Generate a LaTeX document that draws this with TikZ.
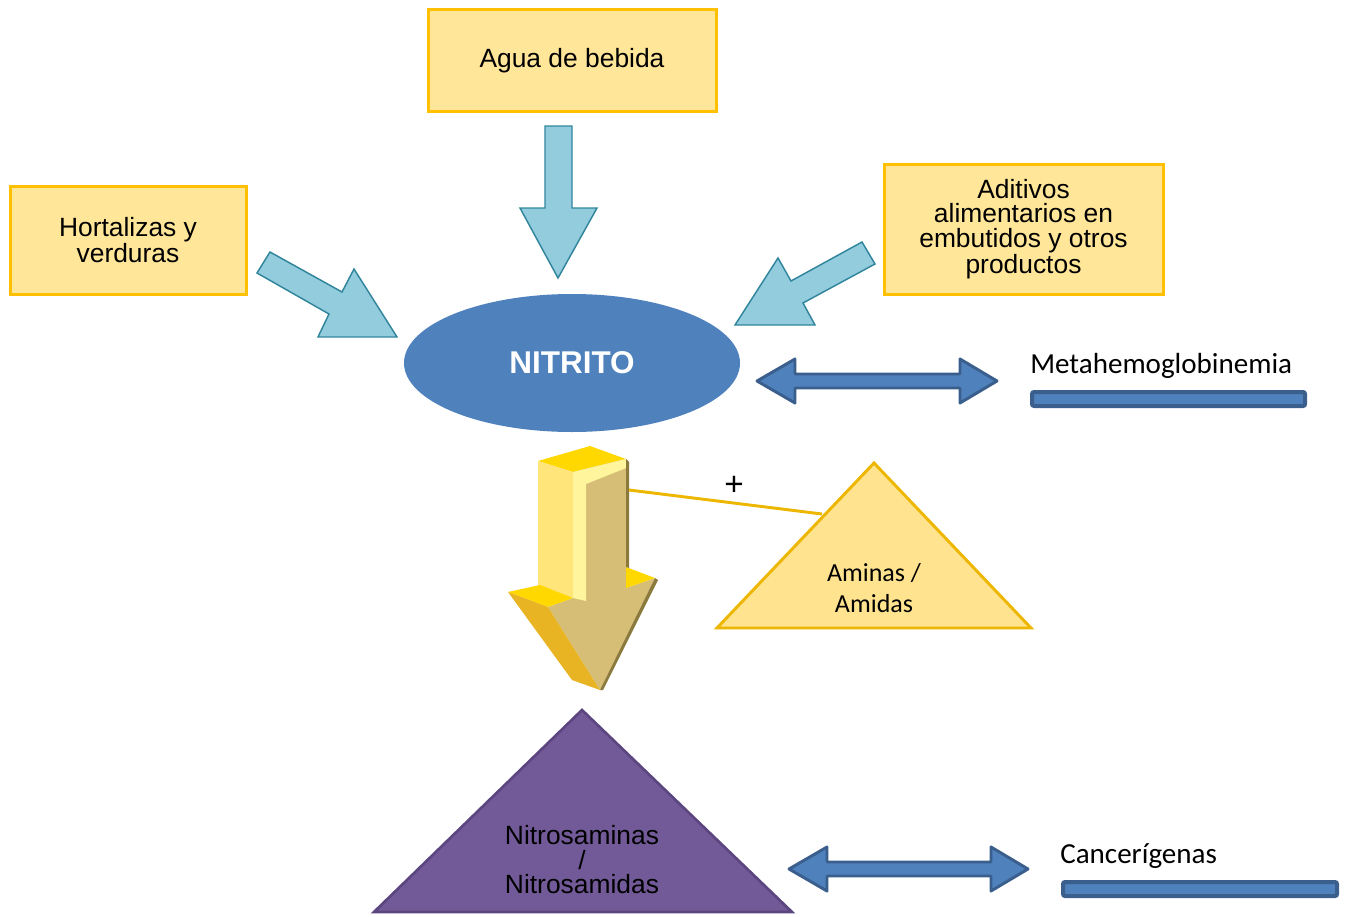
\documentclass[tikz,border=0pt]{standalone}
\usepackage{fontspec}
\setmainfont{Liberation Sans}
\newfontfamily\calibfont{Carlito}
\usetikzlibrary{shapes.geometric}
\definecolor{boxfill}{HTML}{FFE699}
\definecolor{boxline}{HTML}{FFC000}
\definecolor{trifill}{HTML}{FFE38F}
\definecolor{triline}{HTML}{EDB600}
\definecolor{skyfill}{HTML}{93CDDD}
\definecolor{skyline}{HTML}{31859C}
\definecolor{nitblue}{HTML}{4F81BD}
\definecolor{nitline}{HTML}{3A5F8C}
\definecolor{purfill}{HTML}{725A98}
\definecolor{purline}{HTML}{5C4680}
\definecolor{goldtop}{HTML}{FFD800}
\definecolor{goldside}{HTML}{FFE57A}
\definecolor{goldpale}{HTML}{FFF59D}
\definecolor{goldtan}{HTML}{D6BE76}
\definecolor{golddeep}{HTML}{E8B424}
\definecolor{goldedge}{HTML}{8C7A3C}

\begin{document}
\begin{tikzpicture}[x=0.75pt, y=-0.75pt,
    srcbox/.style={fill=boxfill, draw=boxline, line width=2.25pt, align=center,
      inner sep=0pt, font=\fontsize{19.8}{18.4}\selectfont},
    skyarrow/.style={fill=skyfill, draw=skyline, line width=1.1pt, line join=miter},
    bluearrow/.style={fill=nitblue, draw=nitline, line width=2.2pt, line join=round},
    bluebar/.style={fill=nitblue, draw=nitline, line width=3pt, rounded corners=1.5pt},
    effect/.style={anchor=west, inner sep=0pt, font=\calibfont\fontsize{21.8}{24}\selectfont}]
  \useasboundingbox (0,0) rectangle (1349,917);

  % sources
  \node[srcbox, minimum width=216pt, minimum height=75.75pt] (agua) at (572,60.5) {Agua de bebida};
  \node[srcbox, minimum width=177pt, minimum height=81pt] (hort) at (128,240) {Hortalizas y\\verduras};
  \node[srcbox, minimum width=209.25pt, minimum height=97.5pt] (adit) at (1023.5,229)
    {Aditivos\\alimentarios en\\embutidos y otros\\productos};

  % arrows into nitrito
  \draw[skyarrow] (545,126) -- (572,126) -- (572,208) -- (597,208) -- (558,278)
    -- (520,208) -- (545,208) -- cycle;
  \draw[skyarrow] (270,252) -- (342,292) -- (354,269) -- (397,337) -- (318,337)
    -- (329,314) -- (257,273) -- cycle;
  \draw[skyarrow] (862,242) -- (875,264) -- (803,303) -- (815,325) -- (735,325)
    -- (778,258) -- (791,281) -- cycle;

  \node[ellipse, fill=nitblue, minimum width=252pt, minimum height=103.5pt, text=white,
        font=\bfseries\fontsize{23.6}{26}\selectfont] (nitrito) at (572,363) {NITRITO};

  % metahemoglobinemia
  \draw[bluearrow] (757,381) -- (795,359) -- (795,374) -- (960,374) -- (960,359) -- (997,381)
    -- (960,403) -- (960,388) -- (795,388) -- (795,403) -- cycle;
  \node[effect] (meta) at (1030,366) {Metahemoglobinemia};
  \draw[bluebar] (1032,392) rectangle (1305,406);

  % 3d arrow
  \draw[white, line width=3pt, line join=round] (538,461) -- (590,446) -- (626,459) -- (629,462)
    -- (629,568) -- (655,578) -- (658,580) -- (603,690) -- (600,690) -- (572,680)
    -- (508,592) -- (540,585) -- (538,587) -- cycle;
  \fill[goldtop] (538,461) -- (590,446) -- (626,459) -- (573,472) -- cycle;
  \fill[goldside] (538,461) -- (573,472) -- (573,598) -- (538,587) -- cycle;
  \fill[goldtan] (573,472) -- (626,459) -- (626,588) -- (655,578) -- (600,690)
    -- (548,607) -- (573,598) -- cycle;
  \fill[goldpale] (573,472) -- (626,459) -- (626,468) -- (586,484) -- (586,601)
    -- (573,598) -- cycle;
  \fill[goldtop] (508,592) -- (540,585) -- (573,598) -- (548,607) -- cycle;
  \fill[goldtop] (626,567) -- (655,578) -- (626,588) -- cycle;
  \fill[golddeep] (508,592) -- (548,607) -- (600,690) -- (572,680) -- cycle;
  \fill[goldedge] (626,459) -- (629,462) -- (629,568) -- (626,567) -- cycle;
  \fill[goldedge] (655,578) -- (658,580) -- (603,690) -- (600,690) -- cycle;
  \coordinate (arrjoin) at (629,490);

  % aminas / amidas
  \draw[fill=trifill, draw=triline, line width=2.2pt, line join=miter]
    (874,463) -- (1031,628) -- (717,628) -- cycle;
  \node[align=center, font=\calibfont\fontsize{19.5}{23.25}\selectfont] (aminas) at (874,588)
    {Aminas /\\Amidas};
  \coordinate (triedge) at (822,514);
  \draw[triline, line width=2.2pt] (arrjoin) -- (triedge);
  \node[font=\fontsize{25}{26}\selectfont] (plus) at (734,486) {+};

  % nitrosaminas
  \draw[fill=purfill, draw=purline, line width=2pt, line join=miter]
    (582,710) -- (792,912) -- (374,912) -- cycle;
  \node[align=center, font=\fontsize{19.8}{18.4}\selectfont] (nitrosa) at (582,860)
    {Nitrosaminas\\/\\Nitrosamidas};

  % cancerigenas
  \draw[bluearrow] (789,869) -- (827,847) -- (827,862) -- (991,862) -- (991,847) -- (1028,869)
    -- (991,891) -- (991,876) -- (827,876) -- (827,891) -- cycle;
  \node[effect] (cancer) at (1060,856) {Cancerígenas};
  \draw[bluebar] (1063,882) rectangle (1337,896);
\end{tikzpicture}
\end{document}
